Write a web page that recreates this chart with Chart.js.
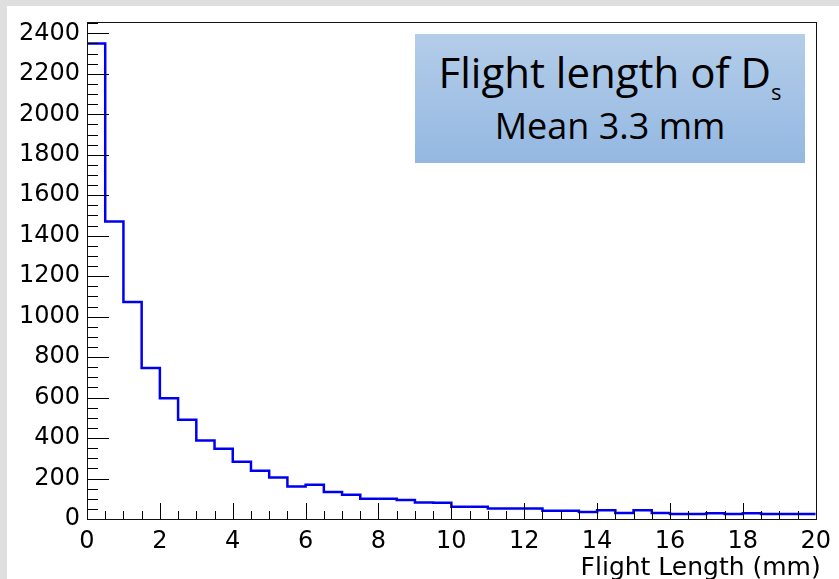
<!DOCTYPE html>
<html>
<head>
<meta charset="utf-8">
<title>Flight length of Ds</title>
<script src="https://cdn.jsdelivr.net/npm/chart.js@4.4.1/dist/chart.umd.min.js"></script>
<style>
  html, body { margin: 0; padding: 0; background: #dfdfdf; }
  #wrap { position: relative; width: 839px; height: 579px; overflow: hidden; }
  #chart { position: absolute; left: 0; top: 0; }
  #label-box {
    position: absolute; left: 415px; top: 34px; width: 390px; height: 129px;
    background: linear-gradient(#b4cde9, #94b8e2);
    font-family: 'Open Sans', sans-serif; color: #000;
  }
  #label-box .line {
    position: absolute; left: 0; right: 0; text-align: center;
    line-height: 1; white-space: nowrap;
  }
  #label-box .l1 { top: 17px; font-size: 42px; }
  #label-box .l2 { top: 74px; font-size: 36px; }
  #label-box .sub { font-size: 22px; position: relative; top: 12px; }
</style>
</head>
<body>
<div id="wrap">
  <canvas id="chart" width="839" height="579"></canvas>
  <div id="label-box">
    <div class="line l1">Flight length of D<span class="sub">s</span></div>
    <div class="line l2">Mean 3.3 mm</div>
  </div>
</div>
<script>
// 0.5 mm bins from 0 to 20 mm
const binLow = [0, 0.5, 1, 1.5, 2, 2.5, 3, 3.5, 4, 4.5, 5, 5.5, 6, 6.5, 7, 7.5, 8, 8.5, 9, 9.5,
                10, 10.5, 11, 11.5, 12, 12.5, 13, 13.5, 14, 14.5, 15, 15.5, 16, 16.5, 17, 17.5, 18, 18.5, 19, 19.5];
const binUpper = 20;
const counts = [2350, 1470, 1072, 746, 597, 490, 388, 347, 283, 238, 205, 161, 169, 133, 120, 100, 100, 94, 82, 80,
                61, 61, 52, 52, 52, 41, 41, 35, 43, 30, 43, 30, 25, 25, 29, 25, 29, 25, 25, 25];

const xTicks = [0, 2, 4, 6, 8, 10, 12, 14, 16, 18, 20];
const yTicks = [0, 200, 400, 600, 800, 1000, 1200, 1400, 1600, 1800, 2000, 2200, 2400];

const X_MINOR = 0.5;
const Y_MINOR = 50;
const LINE_BLUE = '#0000f0';
const AXIS_FONT = 'DejaVu Sans';
const X_TITLE = 'Flight Length (mm)';

// step outline: each bin's lower edge plus the closing upper edge
const outline = binLow.map((x, i) => ({ x: x, y: counts[i] }));
outline.push({ x: binUpper, y: counts[counts.length - 1] });

// gray page, white pad, then frame, inward ticks and axis title like a ROOT canvas
const rootFrame = {
  id: 'rootFrame',
  beforeDraw(chart) {
    const { ctx, width, height } = chart;
    ctx.save();
    ctx.fillStyle = '#dfdfdf';
    ctx.fillRect(0, 0, width, height);
    ctx.fillStyle = '#ffffff';
    ctx.fillRect(7, 6, width - 7, height - 6);
    ctx.restore();
  },
  afterDraw(chart) {
    const { ctx, chartArea: { left, right, top, bottom }, scales: { x, y } } = chart;
    ctx.save();
    ctx.strokeStyle = '#000';
    ctx.lineWidth = 1;
    ctx.beginPath();
    // x ticks, pointing up from the bottom axis
    for (let v = x.min; v <= x.max + 1e-9; v += X_MINOR) {
      const px = Math.round(x.getPixelForValue(v)) + 0.5;
      const major = xTicks.includes(Math.round(v * 10) / 10);
      ctx.moveTo(px, bottom);
      ctx.lineTo(px, bottom - (major ? 16 : 8));
    }
    // y ticks, pointing right from the left axis
    for (let v = y.min; v <= y.max; v += Y_MINOR) {
      const py = Math.round(y.getPixelForValue(v)) + 0.5;
      const major = yTicks.includes(v);
      ctx.moveTo(left, py);
      ctx.lineTo(left + (major ? 22 : 11), py);
    }
    ctx.stroke();
    ctx.strokeStyle = '#111';
    ctx.strokeRect(Math.round(left) + 0.5, Math.round(top) + 0.5,
                   Math.round(right - left), Math.round(bottom - top));

    // x axis title, right-aligned under the last tick label
    ctx.fillStyle = '#000';
    ctx.font = '25px "' + AXIS_FONT + '"';
    ctx.textAlign = 'right';
    ctx.textBaseline = 'alphabetic';
    ctx.fillText(X_TITLE, right + 5, 575);
    ctx.restore();
  }
};

new Chart(document.getElementById('chart'), {
  type: 'line',
  data: {
    datasets: [{
      data: outline,
      stepped: 'before',
      borderColor: LINE_BLUE,
      borderWidth: 2.5,
      pointRadius: 0,
      fill: false
    }]
  },
  options: {
    responsive: false,
    animation: false,
    layout: { padding: { top: 22, right: 17, left: 0, bottom: 0 } },
    plugins: { legend: { display: false }, tooltip: { enabled: false } },
    scales: {
      x: {
        type: 'linear',
        min: 0,
        max: 20,
        grid: { display: false, drawTicks: false },
        border: { display: false },
        afterBuildTicks: s => { s.ticks = xTicks.map(v => ({ value: v })); },
        afterFit: s => { s.height = 60; },
        ticks: {
          color: '#000',
          font: { family: AXIS_FONT, size: 24 },
          padding: 8,
          maxRotation: 0,
          autoSkip: false,
          callback: v => String(v)
        }
      },
      y: {
        min: 0,
        max: 2456,
        grid: { display: false, drawTicks: false },
        border: { display: false },
        afterBuildTicks: s => { s.ticks = yTicks.map(v => ({ value: v })); },
        afterFit: s => { s.width = 87; },
        ticks: {
          color: '#000',
          font: { family: AXIS_FONT, size: 24 },
          padding: 7,
          callback: v => String(v)
        }
      }
    }
  },
  plugins: [rootFrame]
});
</script>
</body>
</html>
